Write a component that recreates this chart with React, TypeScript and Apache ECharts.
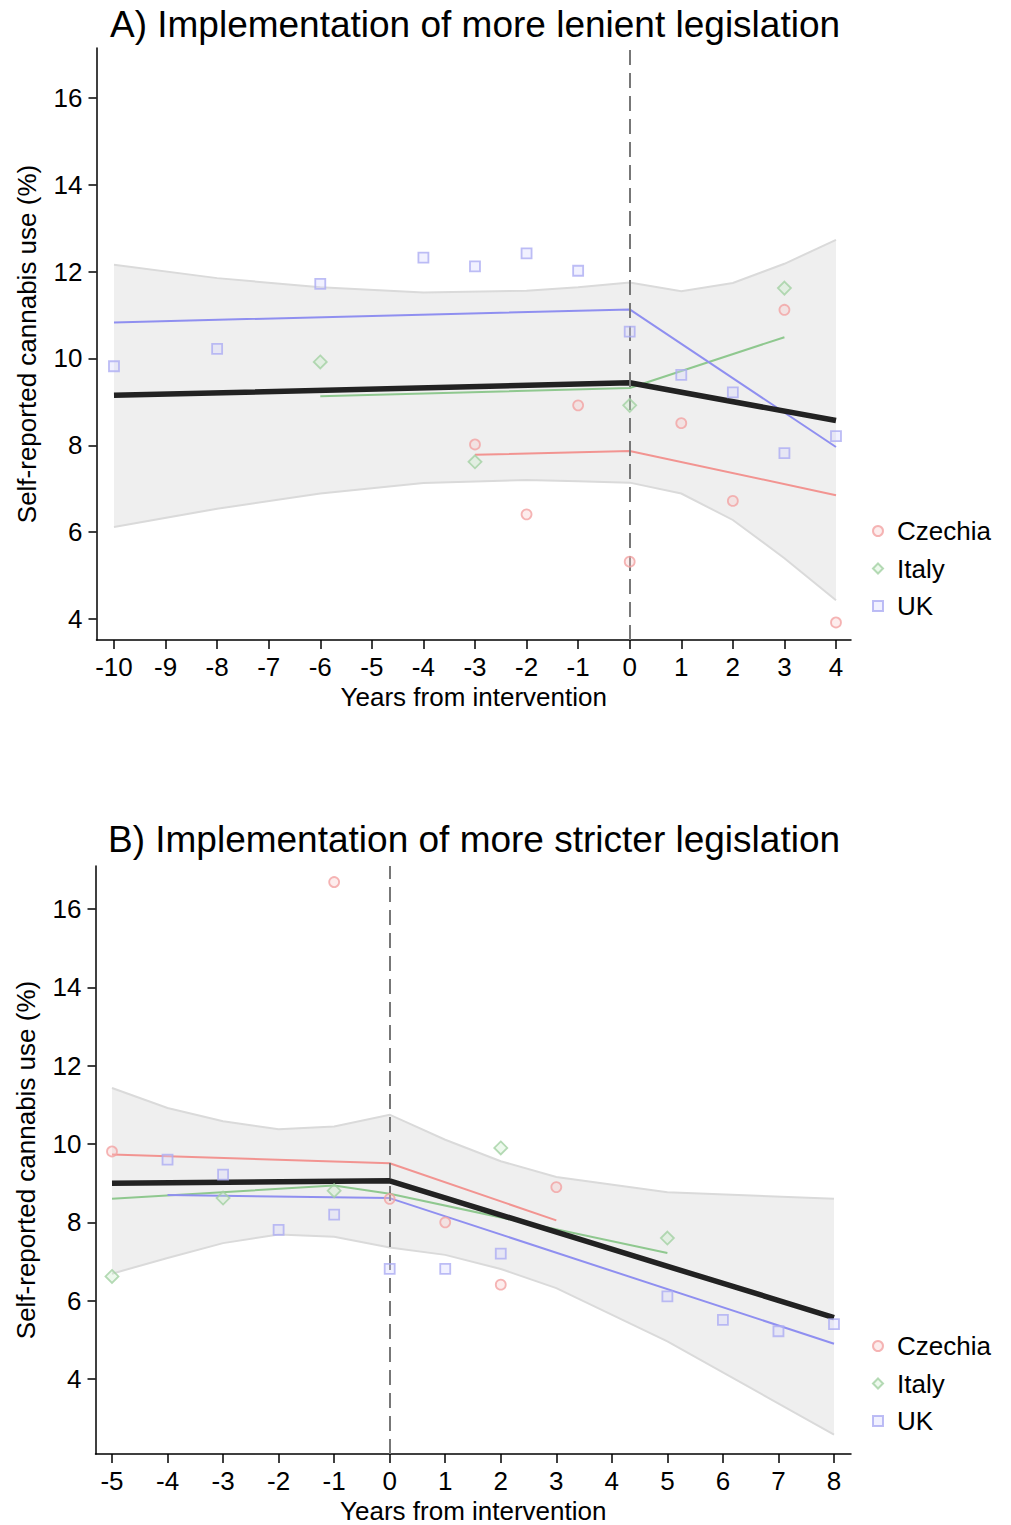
import React, { useEffect, useRef } from "react";
import * as echarts from "echarts";

// ---------- Panel A: more lenient legislation ----------
const czechiaAX = [-3, -2, -1, 0, 1, 2, 3, 4];
const czechiaAY = [8.02, 6.41, 8.92, 5.32, 8.51, 6.72, 11.12, 3.92];
const italyAX = [-6, -3, 0, 3];
const italyAY = [9.92, 7.62, 8.92, 11.62];
const ukAX = [-10, -8, -6, -4, -3, -2, -1, 0, 1, 2, 3, 4];
const ukAY = [9.82, 10.22, 11.72, 12.32, 12.12, 12.42, 12.02, 10.62, 9.62, 9.22, 7.82, 8.21];

const czechiaFitAX = [-3, 0, 4];
const czechiaFitAY = [7.78, 7.87, 6.85];
const italyFitAX = [-6, 0, 3];
const italyFitAY = [9.13, 9.32, 10.49];
const ukFitAX = [-10, 0, 4];
const ukFitAY = [10.83, 11.13, 7.96];
const pooledFitAX = [-10, 0, 4];
const pooledFitAY = [9.15, 9.44, 8.57];

const bandAX = [-10, -8, -6, -4, -2, -1, 0, 1, 2, 3, 4];
const bandAUpper = [12.16, 11.85, 11.64, 11.52, 11.56, 11.64, 11.75, 11.55, 11.74, 12.18, 12.73];
const bandALower = [6.12, 6.54, 6.89, 7.13, 7.2, 7.17, 7.14, 6.89, 6.28, 5.4, 4.43];

const xTicksA = [-10, -9, -8, -7, -6, -5, -4, -3, -2, -1, 0, 1, 2, 3, 4];

// ---------- Panel B: stricter legislation ----------
const czechiaBX = [-5, -1, 0, 1, 2, 3];
const czechiaBY = [9.81, 16.69, 8.6, 8.0, 6.41, 8.9];
const italyBX = [-5, -3, -1, 2, 5];
const italyBY = [6.62, 8.62, 8.81, 9.9, 7.6];
const ukBX = [-4, -3, -2, -1, 0, 1, 2, 5, 6, 7, 8];
const ukBY = [9.6, 9.22, 7.81, 8.2, 6.81, 6.81, 7.2, 6.11, 5.51, 5.22, 5.4];

const czechiaFitBX = [-5, 0, 3];
const czechiaFitBY = [9.73, 9.51, 8.05];
const italyFitBX = [-5, -1, 0, 5];
const italyFitBY = [8.6, 8.94, 8.73, 7.22];
const ukFitBX = [-4, 0, 8];
const ukFitBY = [8.7, 8.62, 4.9];
const pooledFitBX = [-5, 0, 8];
const pooledFitBY = [9.0, 9.06, 5.57];

const bandBX = [-5, -4, -3, -2, -1, 0, 1, 2, 3, 5, 8];
const bandBUpper = [11.43, 10.92, 10.58, 10.38, 10.45, 10.75, 10.11, 9.56, 9.16, 8.77, 8.6];
const bandBLower = [6.69, 7.09, 7.47, 7.69, 7.63, 7.36, 7.17, 6.81, 6.32, 4.96, 2.58];

const xTicksB = [-5, -4, -3, -2, -1, 0, 1, 2, 3, 4, 5, 6, 7, 8];
const yTicks = [4, 6, 8, 10, 12, 14, 16];

const countries = ["Czechia", "Italy", "UK"];
const titleA = "A) Implementation of more lenient legislation";
const titleB = "B) Implementation of more stricter legislation";
const xName = "Years from intervention";
const yName = "Self-reported cannabis use (%)";

const FONT = "'Liberation Sans', Arial, Helvetica, sans-serif";

const zip = (xs: number[], ys: number[]) => xs.map((x, i) => [x, ys[i]]);

const markerStyles: Record<string, any> = {
  Czechia: {
    symbol: "circle",
    symbolSize: 10,
    itemStyle: { color: "rgba(250,200,200,0.4)", borderColor: "#f3a3a3", borderWidth: 1.8 },
  },
  Italy: {
    symbol: "diamond",
    symbolSize: 13,
    itemStyle: { color: "rgba(200,235,200,0.4)", borderColor: "#a3d1a3", borderWidth: 1.8 },
  },
  UK: {
    symbol: "rect",
    symbolSize: 10,
    itemStyle: { color: "rgba(210,210,255,0.4)", borderColor: "#adadf2", borderWidth: 1.8 },
  },
};
const fitColors: Record<string, string> = {
  Czechia: "#f29491",
  Italy: "#8fc88f",
  UK: "#8f8ff0",
};

function bandSeries(idx: number, xs: number[], up: number[], lo: number[]) {
  return {
    type: "custom",
    xAxisIndex: idx,
    yAxisIndex: idx,
    data: [[xs[0], up[0]]],
    silent: true,
    z: 1,
    renderItem: (_params: any, api: any) => {
      const upPts = xs.map((x, i) => api.coord([x, up[i]]));
      const loPts = xs.map((x, i) => api.coord([x, lo[i]]));
      return {
        type: "group",
        children: [
          {
            type: "polygon",
            shape: { points: [...upPts, ...loPts.slice().reverse()] },
            style: { fill: "#efefef", stroke: "none" },
          },
          {
            type: "polyline",
            shape: { points: upPts },
            style: { fill: "none", stroke: "#dadada", lineWidth: 2 },
          },
          {
            type: "polyline",
            shape: { points: loPts },
            style: { fill: "none", stroke: "#dadada", lineWidth: 2 },
          },
        ],
      };
    },
  };
}

function fitSeries(idx: number, name: string, xs: number[], ys: number[], color: string, width: number, z: number) {
  return {
    type: "line",
    name,
    xAxisIndex: idx,
    yAxisIndex: idx,
    data: zip(xs, ys),
    symbol: "none",
    lineStyle: { color, width },
    itemStyle: { color },
    z,
  };
}

function scatterSeries(idx: number, name: string, xs: number[], ys: number[]) {
  return {
    type: "scatter",
    name,
    xAxisIndex: idx,
    yAxisIndex: idx,
    data: zip(xs, ys),
    ...markerStyles[name],
    z: 5,
  };
}

function xAxis(idx: number, min: number, max: number, ticks: number[]) {
  return {
    type: "value",
    gridIndex: idx,
    min,
    max,
    splitLine: { show: false },
    axisLine: { show: true, onZero: false, lineStyle: { color: "#000", width: 1.5 } },
    axisTick: { show: true, length: 9, lineStyle: { color: "#000", width: 1.5 }, customValues: ticks },
    axisLabel: { color: "#000", fontSize: 26, fontFamily: FONT, margin: 14, customValues: ticks },
    name: xName,
    nameLocation: "middle",
    nameGap: 44,
    nameTextStyle: { color: "#000", fontSize: 26, fontFamily: FONT },
  };
}

function yAxis(idx: number, min: number, max: number) {
  return {
    type: "value",
    gridIndex: idx,
    min,
    max,
    splitLine: { show: false },
    axisLine: { show: true, onZero: false, lineStyle: { color: "#000", width: 1.5 } },
    axisTick: { show: true, length: 8, lineStyle: { color: "#000", width: 1.5 }, customValues: yTicks },
    axisLabel: { color: "#000", fontSize: 26, fontFamily: FONT, margin: 14, customValues: yTicks },
    name: yName,
    nameLocation: "middle",
    nameGap: 57,
    nameRotate: 90,
    nameTextStyle: { color: "#000", fontSize: 26, fontFamily: FONT },
  };
}

function legend(top: number) {
  return {
    orient: "vertical",
    left: 867,
    top,
    data: countries,
    itemWidth: 10,
    itemHeight: 10,
    itemGap: 11.5,
    selectedMode: false,
    textStyle: { color: "#000", fontSize: 26, fontFamily: FONT, lineHeight: 26, padding: [0, 0, 0, 9] },
  };
}

const dashed = {
  silent: true,
  symbol: ["none", "none"],
  label: { show: false },
  lineStyle: { color: "#777", type: [15, 8], width: 2 },
  data: [{ xAxis: 0 }],
};

export default function App() {
  const ref = useRef<HTMLDivElement>(null);
  useEffect(() => {
    document.body.style.margin = "0";
    const chart = echarts.init(ref.current!, null, { renderer: "svg" });
    const series: any[] = [];

    // Panel A
    series.push(bandSeries(0, bandAX, bandAUpper, bandALower));
    series.push(fitSeries(0, "Czechia fit A", czechiaFitAX, czechiaFitAY, fitColors.Czechia, 2, 2));
    series.push(fitSeries(0, "Italy fit A", italyFitAX, italyFitAY, fitColors.Italy, 2, 2));
    series.push(fitSeries(0, "UK fit A", ukFitAX, ukFitAY, fitColors.UK, 2, 2));
    series.push({
      ...fitSeries(0, "Pooled A", pooledFitAX, pooledFitAY, "#222", 5.5, 3),
      markLine: dashed,
    });
    series.push(scatterSeries(0, "Czechia", czechiaAX, czechiaAY));
    series.push(scatterSeries(0, "Italy", italyAX, italyAY));
    series.push(scatterSeries(0, "UK", ukAX, ukAY));

    // Panel B
    series.push(bandSeries(1, bandBX, bandBUpper, bandBLower));
    series.push(fitSeries(1, "Czechia fit B", czechiaFitBX, czechiaFitBY, fitColors.Czechia, 2, 2));
    series.push(fitSeries(1, "Italy fit B", italyFitBX, italyFitBY, fitColors.Italy, 2, 2));
    series.push(fitSeries(1, "UK fit B", ukFitBX, ukFitBY, fitColors.UK, 2, 2));
    series.push({
      ...fitSeries(1, "Pooled B", pooledFitBX, pooledFitBY, "#222", 5.5, 3),
      markLine: dashed,
    });
    series.push(scatterSeries(1, "Czechia", czechiaBX, czechiaBY));
    series.push(scatterSeries(1, "Italy", italyBX, italyBY));
    series.push(scatterSeries(1, "UK", ukBX, ukBY));

    chart.setOption({
      animation: false,
      backgroundColor: "#fff",
      textStyle: { fontFamily: FONT },
      grid: [
        { left: 96.5, top: 48, width: 754.5, height: 592 },
        { left: 95.5, top: 866, width: 755.5, height: 588 },
      ],
      xAxis: [xAxis(0, -10.339, 4.291, xTicksA), xAxis(1, -5.297, 8.306, xTicksB)],
      yAxis: [yAxis(0, 3.516, 17.15), yAxis(1, 2.085, 17.1)],
      legend: [legend(513), legend(1328)],
      graphic: [
        {
          type: "text",
          x: 475,
          y: 24,
          style: {
            text: titleA,
            fill: "#000",
            font: `37px ${FONT}`,
            align: "center",
            verticalAlign: "middle",
          },
        },
        {
          type: "text",
          x: 474,
          y: 839,
          style: {
            text: titleB,
            fill: "#000",
            font: `37px ${FONT}`,
            align: "center",
            verticalAlign: "middle",
          },
        },
      ],
      series,
    });
    return () => chart.dispose();
  }, []);
  return <div ref={ref} style={{ width: 1011, height: 1525 }} />;
}
